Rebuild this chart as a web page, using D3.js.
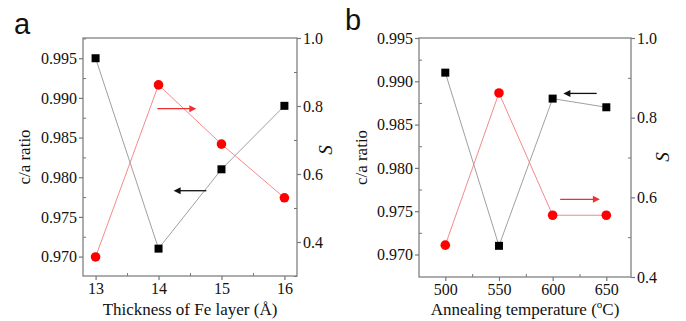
<!DOCTYPE html>
<html>
<head>
<meta charset="utf-8">
<script src="https://cdn.jsdelivr.net/npm/d3@7"></script>
<style>
  html, body { margin: 0; padding: 0; background: #fff; }
</style>
</head>
<body>
<svg id="chart" width="686" height="321"></svg>
<script>
// panel a: thickness of Fe layer
var thickness = [13, 14, 15, 16];
var ratioA = [0.995, 0.971, 0.981, 0.989];
var orderA = [0.356, 0.862, 0.688, 0.530];
// panel b: annealing temperature
var temperature = [500, 550, 600, 650];
var ratioB = [0.991, 0.971, 0.988, 0.987];
var orderB = [0.480, 0.862, 0.555, 0.555];

var ratioTicksA = [0.970, 0.975, 0.980, 0.985, 0.990, 0.995];
var ratioTicksB = [0.970, 0.975, 0.980, 0.985, 0.990, 0.995];
var orderTicks = [0.4, 0.6, 0.8, 1.0];

var SERIF = "Liberation Serif";
var SANS = "Liberation Sans";

var svg = d3.select("#chart");

function txt(sel, fam, size) {
  return sel.attr("font-family", fam).attr("font-size", size)
    .style("font-family", fam).style("font-size", size + "px");
}

function drawPanel(p) {
  var g = svg.append("g");
  var x = d3.scaleLinear().domain(p.xDomain).range([p.left, p.right]);
  var yL = d3.scaleLinear().domain(p.yDomain).range([p.bottom, p.top]);
  var yR = d3.scaleLinear().domain(p.sDomain).range([p.bottom, p.top]);

  // frame
  g.append("rect")
    .attr("x", p.left).attr("y", p.top)
    .attr("width", p.right - p.left).attr("height", p.bottom - p.top)
    .attr("fill", "none").attr("stroke", "#777").attr("stroke-width", 1.2);

  function styleAxis(a) {
    a.select(".domain").remove();
    a.attr("font-family", null).attr("font-size", null);
    a.selectAll(".tick line").attr("stroke", "#777").attr("stroke-width", 1.2);
    txt(a.selectAll(".tick text").attr("fill", "#111"), SERIF, 16);
  }

  // x axis
  var xa = g.append("g").attr("transform", "translate(0," + p.bottom + ")")
    .call(d3.axisBottom(x).tickValues(p.xTicks).tickSize(4).tickPadding(3).tickFormat(d3.format("d")));
  styleAxis(xa);
  g.append("g").attr("transform", "translate(0," + p.bottom + ")")
    .call(d3.axisTop(x).tickValues(p.xMinor).tickSize(3).tickFormat(""))
    .call(function(a) { a.select(".domain").remove(); a.selectAll("line").attr("stroke", "#777"); });

  // left axis
  var la = g.append("g").attr("transform", "translate(" + p.left + ",0)")
    .call(d3.axisLeft(yL).tickValues(p.yTicks).tickSize(4).tickPadding(2).tickFormat(d3.format(".3f")));
  styleAxis(la);
  var yMinor = p.yTicks.map(function(d) { return d + 0.0025; }).filter(function(d) { return d < p.yDomain[1]; });
  g.append("g").attr("transform", "translate(" + p.left + ",0)")
    .call(d3.axisRight(yL).tickValues(yMinor).tickSize(3).tickFormat(""))
    .call(function(a) { a.select(".domain").remove(); a.selectAll("line").attr("stroke", "#777"); });

  // right axis
  var ra = g.append("g").attr("transform", "translate(" + p.right + ",0)")
    .call(d3.axisRight(yR).tickValues(orderTicks).tickSize(4).tickPadding(2).tickFormat(d3.format(".1f")));
  styleAxis(ra);
  var sMinor = orderTicks.map(function(d) { return d - 0.1; }).filter(function(d) { return d > p.sDomain[0] - 1e-9; });
  g.append("g").attr("transform", "translate(" + p.right + ",0)")
    .call(d3.axisLeft(yR).tickValues(sMinor).tickSize(3).tickFormat(""))
    .call(function(a) { a.select(".domain").remove(); a.selectAll("line").attr("stroke", "#777"); });

  // lines
  var lineL = d3.line().x(function(d, i) { return x(p.xs[i]); }).y(function(d) { return yL(d); });
  var lineR = d3.line().x(function(d, i) { return x(p.xs[i]); }).y(function(d) { return yR(d); });
  g.append("path").datum(p.s).attr("d", lineR)
    .attr("fill", "none").attr("stroke", "#f58a8a").attr("stroke-width", 1);
  g.append("path").datum(p.ratio).attr("d", lineL)
    .attr("fill", "none").attr("stroke", "#a0a0a0").attr("stroke-width", 1);

  g.selectAll(".sq").data(p.ratio).enter().append("rect")
    .attr("x", function(d, i) { return x(p.xs[i]) - 4; })
    .attr("y", function(d) { return yL(d) - 4; })
    .attr("width", 8).attr("height", 8).attr("fill", "#000");
  g.selectAll(".ci").data(p.s).enter().append("circle")
    .attr("cx", function(d, i) { return x(p.xs[i]); })
    .attr("cy", function(d) { return yR(d); })
    .attr("r", 4.8).attr("fill", "#f00");

  // arrows
  p.arrows.forEach(function(a) {
    var x0 = x(a.from), x1 = x(a.to);
    var yy = a.axis === "L" ? yL(a.y) : yR(a.y);
    var dir = x1 > x0 ? 1 : -1;
    g.append("line").attr("x1", x0).attr("y1", yy).attr("x2", x1 - dir * 6).attr("y2", yy)
      .attr("stroke", a.color).attr("stroke-width", 1.3);
    g.append("path")
      .attr("d", "M" + x1 + "," + yy + "L" + (x1 - dir * 7) + "," + (yy - 3.5) + "L" + (x1 - dir * 7) + "," + (yy + 3.5) + "Z")
      .attr("fill", a.color);
  });

  // labels
  txt(svg.append("text").attr("x", p.letterX).attr("y", p.letterY), SANS, 29)
    .attr("fill", "#111").text(p.letter);
  txt(svg.append("text"), SERIF, 17)
    .attr("transform", "translate(" + p.yLabelX + "," + (p.top + p.bottom) / 2 + ") rotate(-90)")
    .attr("text-anchor", "middle").attr("fill", "#111").text("c/a ratio");
  txt(svg.append("text"), SERIF, 19)
    .attr("transform", "translate(" + p.sLabelX + "," + p.sLabelY + ") rotate(-90)")
    .attr("text-anchor", "middle").attr("font-style", "italic").style("font-style", "italic")
    .attr("fill", "#111").text("S");
  var xl = txt(svg.append("text"), SERIF, 17)
    .attr("x", (p.left + p.right) / 2).attr("y", 315)
    .attr("text-anchor", "middle").attr("fill", "#111");
  p.xLabel(xl);
}

drawPanel({
  letter: "a", letterX: 14, letterY: 34,
  left: 83, right: 297, top: 38, bottom: 276,
  xDomain: [12.8, 16.2], xTicks: thickness, xMinor: [13.5, 14.5, 15.5],
  yDomain: [0.96755, 0.99755], yTicks: ratioTicksA,
  sDomain: [0.3, 1.0],
  xs: thickness, ratio: ratioA, s: orderA,
  yLabelX: 30, sLabelX: 332, sLabelY: 150,
  arrows: [
    { from: 13.98, to: 14.6, y: 0.792, axis: "R", color: "#f03030" },
    { from: 14.76, to: 14.24, y: 0.9783, axis: "L", color: "#111" }
  ],
  xLabel: function(t) { t.text("Thickness of Fe layer (Å)"); }
});

drawPanel({
  letter: "b", letterX: 345, letterY: 30,
  left: 419, right: 631, top: 38, bottom: 277,
  xDomain: [475.5, 673], xTicks: temperature, xMinor: [525, 575, 625],
  yDomain: [0.9674, 0.995], yTicks: ratioTicksB,
  sDomain: [0.4, 1.0],
  xs: temperature, ratio: ratioB, s: orderB,
  yLabelX: 367, sLabelX: 669, sLabelY: 157,
  arrows: [
    { from: 641, to: 610, y: 0.9886, axis: "L", color: "#111" },
    { from: 607, to: 644, y: 0.595, axis: "R", color: "#f03030" }
  ],
  xLabel: function(t) {
    t.append("tspan").text("Annealing temperature (");
    t.append("tspan").attr("dy", -7).attr("font-size", 11).style("font-size", "11px").text("o");
    t.append("tspan").attr("dy", 7).text("C)");
  }
});
</script>
</body>
</html>
